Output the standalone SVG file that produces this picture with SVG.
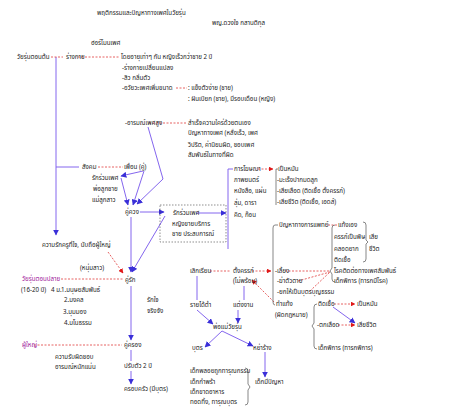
<svg xmlns="http://www.w3.org/2000/svg" width="474" height="411" viewBox="0 0 474 411">
<defs>
<style>
text{font-family:"Noto Sans Thai","Noto Sans","DejaVu Sans",sans-serif;font-size:6.2px;fill:#222}
.m{fill:#a0209a}
.p{stroke:#8466ee;stroke-width:1;fill:none}
.r{stroke:#e03a3a;stroke-width:0.8;stroke-dasharray:2 1.5;fill:none}
.b{stroke:#555;stroke-width:0.7;fill:none}
.bx{stroke:#444;stroke-width:0.6;stroke-dasharray:1.5 1.5;fill:none}
</style>
<marker id="ap" viewBox="0 0 10 10" refX="9" refY="5" markerWidth="6" markerHeight="6" orient="auto"><path d="M0,0L10,5L0,10z" fill="#3a2fd8"/></marker>
<marker id="ar" viewBox="0 0 10 10" refX="9" refY="5" markerWidth="6" markerHeight="6" orient="auto"><path d="M0,0L10,5L0,10z" fill="#e01818"/></marker>
</defs>
<rect width="474" height="411" fill="#fff"/>
<g id="title"><text x="97" y="15">พฤติกรรมและปัญหาทางเพศในวัยรุ่น</text><text x="212" y="25">พญ.ดวงใจ กสานติกุล</text></g>
<g id="connectors">
<path class="p" d="M56,57V235" marker-end="url(#ap)"/>
<path class="p" d="M56,167H79"/>
<path class="p" d="M148,127L163,179L137,204" marker-end="url(#ap)"/>
<path class="p" d="M143,171L121,176" marker-end="url(#ap)"/>
<path class="p" d="M121,178L128,205" marker-end="url(#ap)"/>
<path class="p" d="M144,171L133,205" marker-end="url(#ap)"/>
<path class="p" d="M140,212H164" marker-end="url(#ap)"/>
<path class="p" d="M196,213H226" marker-end="url(#ap)"/>
<path class="p" d="M165,216L132,272" marker-end="url(#ap)"/>
<path class="p" d="M131,217V272" marker-end="url(#ap)"/>
<path class="p" d="M131,286V340" marker-end="url(#ap)"/>
<path class="p" d="M131,350V361M131,371V384" marker-end="url(#ap)"/>
<path class="p" d="M233,169H228V249"/>
<path class="p" d="M197,276V300"/>
<path class="p" d="M244,286V300"/>
<path class="p" d="M197,310L213,324" marker-end="url(#ap)"/>
<path class="p" d="M238,310V323" marker-end="url(#ap)"/>
<path class="p" d="M222,331L205,347" marker-end="url(#ap)"/>
<path class="p" d="M222,331L253,346" marker-end="url(#ap)"/>
<path class="p" d="M265,352V377" marker-end="url(#ap)"/>
<path class="p" d="M333,307L355,323" marker-end="url(#ap)"/>
<path class="r" d="M51,57H63"/>
<path class="r" d="M78,57H120"/>
<path class="r" d="M176,88H187"/>
<path class="r" d="M149,123H187"/>
<path class="r" d="M98,167H123"/>
<path class="r" d="M258,169H273" marker-end="url(#ar)"/>
<path class="r" d="M108,252L123,273" marker-end="url(#ar)"/>
<path class="r" d="M61,279H123"/>
<path class="r" d="M34,345H122"/>
<path class="r" d="M210,271H231"/>
<path class="r" d="M252,271H271" marker-end="url(#ar)"/>
<path class="r" d="M328,225H337"/>
<path class="r" d="M285,271H330M298,281L330,272M310,291L330,272"/>
<path class="r" d="M274,302L252,280" marker-end="url(#ar)"/>
<path class="r" d="M334,304H355" marker-end="url(#ar)"/>
<path class="r" d="M338,325H355" marker-end="url(#ar)"/>
<path class="b" d="M278,169H276V205"/>
<path class="b" d="M278,225H275Q273,225 273,228V302Q273,305 275,305"/>
<path class="b" d="M335,225Q332,225 332,228V268L330,271L332,274V279Q332,282 335,282"/>
<path class="b" d="M363,222Q366,222 366,225V240L368,242L366,244V259Q366,262 363,262"/>
<path class="b" d="M317,304Q314,304 314,307V323L312,326L314,329V346Q314,349 317,349"/>
<path class="b" d="M245,368Q248,368 248,371V384L250,387L248,390V402Q248,405 245,405"/>
<rect class="bx" x="160" y="205" width="66" height="37"/>
</g>
<g id="n1"><text x="91" y="45">ฮอร์โมนเพศ</text></g>
<g id="n2"><text x="17" y="59">วัยรุ่นตอนต้น</text></g>
<g id="n3"><text x="66" y="59">ร่างกาย</text></g>
<g id="n4"><text x="121" y="59">โดยอายุเท่าๆ กัน หญิงเร็วกว่าชาย 2 ปี</text><text x="122" y="70">-ร่างกายเปลี่ยนแปลง</text><text x="122" y="80">-สิว กลิ่นตัว</text><text x="122" y="90">-อวัยวะเพศเพิ่มขนาด</text></g>
<g id="n5"><text x="188" y="90">: แข็งตัวง่าย (ชาย)</text><text x="188" y="101">: ฝันเปียก (ชาย), มีรอบเดือน (หญิง)</text></g>
<g id="n6"><text x="125" y="125">-อารมณ์เพศสูง</text></g>
<g id="n7"><text x="188" y="125">สำเร็จความใคร่ด้วยตนเอง</text><text x="188" y="135">ปัญหาทางเพศ (หลั่งเร็ว, เพศ</text><text x="188" y="147">วิปริต, ค่านิยมผิด, ชอบเพศ</text><text x="188" y="157">สัมพันธ์ในทางที่ผิด</text></g>
<g id="n8"><text x="82" y="169">สังคม</text></g>
<g id="n9"><text x="124" y="169">เพื่อน (คู่)</text></g>
<g id="n10"><text x="92" y="180">รักร่วมเพศ</text><text x="93" y="191">พ่อลูกชาย</text><text x="92" y="202">แม่ลูกสาว</text></g>
<g id="n11"><text x="125" y="214">คู่ควง</text></g>
<g id="n12"><text x="173" y="215">รักร่วมเพศ</text><text x="172" y="226">หญิงขายบริการ</text><text x="172" y="236">ชาย ประสบการณ์</text></g>
<g id="n13"><text x="234" y="171">การโฆษณา</text><text x="234" y="182">ภาพยนตร์</text><text x="234" y="193">หนังสือ, แผ่น</text><text x="234" y="205">ลุ่ม, ดารา</text><text x="234" y="217">คิด, ก๊อน</text></g>
<g id="n14"><text x="278" y="171">เป็นหมัน</text><text x="277" y="182">-มะเร็งปากมดลูก</text><text x="277" y="193">-เสียเลือด (ติดเชื้อ ตั้งครรภ์)</text><text x="277" y="204">-เสียชีวิต (ติดเชื้อ, เอดส์)</text></g>
<g id="n15"><text x="42" y="247">ความรักครูที่ใจ, นับถือผู้ใหญ่</text></g>
<g id="n16"><text x="80" y="270">(หนุ่มสาว)</text></g>
<g id="n17"><text class="m" x="22" y="281">วัยรุ่นตอนปลาย</text><text x="21" y="292">(16-20 ปี)</text><text x="51" y="292">4 ม.</text><text x="61" y="292">1.มนุษยสัมพันธ์</text><text x="64" y="302">2.มงคล</text><text x="63" y="314">3.มุมมอง</text><text x="64" y="325">4.มโนธรรม</text></g>
<g id="n18"><text x="125" y="282">คู่รัก</text></g>
<g id="n19"><text x="147" y="302">รักใจ</text><text x="147" y="313">จริงจัง</text></g>
<g id="n20"><text class="m" x="22" y="347">ผู้ใหญ่</text><text x="55" y="359">ความรับผิดชอบ</text><text x="55" y="369">อารมณ์หนักแน่น</text></g>
<g id="n21"><text x="124" y="347">คู่ครอง</text><text x="124" y="368">ปรับตัว 2 ปี</text></g>
<g id="n22"><text x="124" y="391">ครอบครัว (มีบุตร)</text></g>
<g id="n23"><text x="190" y="273">เลิกเรียน</text></g>
<g id="n24"><text x="233" y="273">ตั้งครรภ์</text><text x="233" y="283">(ไม่พร้อม)</text></g>
<g id="n25"><text x="279" y="227">ปัญหาทางการแพทย์</text><text x="275" y="273">-เลี้ยง</text><text x="277" y="283">-ฆ่าตัวตาย</text><text x="277" y="294">-ยกให้เป็นบุตรบุญธรรม</text><text x="276" y="306">ทำแท้ง</text><text x="275" y="317">(ผิดกฎหมาย)</text></g>
<g id="n26"><text x="338" y="227">แท้งเอง</text><text x="334" y="239">ครรภ์เป็นพิษ</text><text x="334" y="251">คลอดยาก</text><text x="334" y="262">ติดเชื้อ</text><text x="334" y="273">โรคติดต่อทางเพศสัมพันธ์</text><text x="334" y="283">เด็กพิการ (ทารกมีโรค)</text><text x="369" y="239">เสีย</text><text x="369" y="251">ชีวิต</text></g>
<g id="n27"><text x="318" y="306">ติดเชื้อ</text><text x="357" y="306">เป็นหมัน</text><text x="317" y="327">-ตกเลือด</text><text x="357" y="327">เสียชีวิต</text><text x="318" y="350">เด็กพิการ (ทารกพิการ)</text></g>
<g id="n28"><text x="190" y="307">รายได้ต่ำ</text><text x="233" y="307">แต่งงาน</text></g>
<g id="n29"><text x="213" y="329">พ่อแม่วัยรุ่น</text></g>
<g id="n30"><text x="192" y="350">บุตร</text><text x="253" y="350">หย่าร้าง</text></g>
<g id="n31"><text x="190" y="373">เด็กพลอยถูกทารุณกรรม</text><text x="190" y="384">เด็กกำพร้า</text><text x="190" y="394">เด็กขาดอาหาร</text><text x="190" y="404">ทอดทิ้ง, ทารุณบุตร</text></g>
<g id="n32"><text x="255" y="384">เด็กมีปัญหา</text></g>
</svg>
